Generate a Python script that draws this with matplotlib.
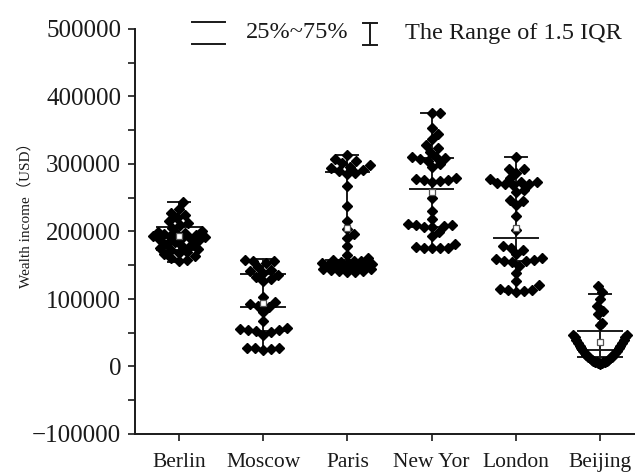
import matplotlib
matplotlib.use("Agg")
import matplotlib.pyplot as plt
from matplotlib.lines import Line2D
from matplotlib.ticker import MultipleLocator
import numpy as np

plt.rcParams['font.family'] = ['Liberation Serif', 'Noto Sans CJK SC', 'DejaVu Sans']
plt.rcParams['axes.unicode_minus'] = True

# ---------------- data ----------------
cities = ["Berlin", "Moscow", "Paris", "New Yor", "London", "Beijing"]

berlin = [243000, 233000, 228000, 224000, 220000, 216000, 212000, 209000, 205000, 201000,
          199000, 198000, 197000, 196000, 195000, 194000, 193000, 192000, 191000, 190000,
          188000, 186000, 184000, 182000, 180000, 178000, 176000, 174000, 172000, 170000,
          168000, 166000, 163000, 160000, 158000, 156000]
moscow = [158000, 157000, 156000, 153000, 148000, 143000, 141000, 139000, 136000, 133000,
          130000, 127000, 103000, 96000, 92000, 89000, 88000, 80000, 67000, 57000,
          55000, 54000, 54000, 53000, 51000, 47000, 28000, 27000, 27000, 26000, 25000]
paris = [313000, 307000, 304000, 301000, 298000, 296000, 294000, 291000, 289000, 287000,
         285000, 267000, 238000, 216000, 203000, 197000, 191000, 178000, 165000, 160000,
         158000, 157000, 156000, 155000, 154000, 153000, 152000, 151000, 150000, 149000,
         148000, 147000, 146000, 145000, 144000, 143000, 142000, 141000, 140000, 140000]
new_york = [376000, 375000, 354000, 345000, 337000, 328000, 323000, 318000, 311000, 310000,
            309000, 308000, 305000, 300000, 295000, 279000, 278000, 277000, 276000, 275000,
            274000, 249000, 230000, 218000, 211000, 210000, 209000, 208000, 207000, 206000,
            199000, 193000, 182000, 177000, 176000, 176000, 175000, 175000]
london = [311000, 293000, 292000, 287000, 279000, 278000, 274000, 273000, 272000, 271000,
          270000, 269000, 262000, 258000, 247000, 245000, 239000, 223000, 202000, 179000,
          175000, 173000, 166000, 160000, 159000, 158000, 157000, 156000, 155000, 149000,
          138000, 126000, 121000, 115000, 114000, 113000, 112000, 111000]
beijing = [119000, 111000, 100000, 89000, 82000, 78000, 65000, 62000,
           47000, 47000, 43000, 43000, 39000, 39000, 35000, 35000, 31000, 31000,
           27000, 27000, 23000, 23000, 20000, 20000, 17000, 17000, 14000, 14000,
           12000, 12000, 10000, 10000, 8500, 8500, 7000, 7000, 6000, 6000, 5000, 5000, 4000]

# summary statistics
whisker_low = [155000, 26000, 140000, 176000, 111000, 7400]
q25 = [172000, 53000, 150000, 206000, 156000, 14000]
median = [190000, 88700, 158000, 262600, 190000, 24000]
q75 = [207000, 137600, 288000, 309600, 271000, 53000]
whisker_high = [243000, 159000, 313000, 376000, 311000, 108000]
means = [193000, 94000, 205000, 258000, 205600, 36700]

yticks = [-100000, 0, 100000, 200000, 300000, 400000, 500000]
ytick_labels = ["\u2212100000", "0", "100000", "200000", "300000", "400000", "500000"]

groups = [berlin, moscow, paris, new_york, london, beijing]
layouts = ["swarm", "swarm", "swarm", "swarm", "swarm", "binned"]

# ---------------- figure ----------------
W, H = 635, 473
fig = plt.figure(figsize=(W / 100, H / 100), dpi=100)
ax_l, ax_r, ax_t, ax_b = 135, 635, 29, 434
ax = fig.add_axes([ax_l / W, 1 - ax_b / H, (ax_r - ax_l) / W, (ax_b - ax_t) / H])
xlim = (-0.523, 5.416)
ylim = (-100000, 500000)
ax.set_xlim(*xlim)
ax.set_ylim(*ylim)

px_x = (ax_r - ax_l) / (xlim[1] - xlim[0])
px_y = (ax_b - ax_t) / (ylim[1] - ylim[0])


def swarm(values, diam=7.8, maxw=26.0):
    vals = np.asarray(values, dtype=float)
    order = np.argsort(vals, kind='stable')
    placed = []
    offs = np.zeros(len(vals))
    cands = [0.0]
    k = 1
    while k <= maxw:
        cands += [float(k), -float(k)]
        k += 1
    for i in order:
        yp = vals[i] * px_y
        best, best_d = cands[0], -1.0
        for c in cands:
            dmin = min([np.hypot(px - c, py - yp) for (px, py) in placed] or [99.0])
            if dmin >= diam:
                best = c
                break
            if dmin > best_d + 0.3:
                best, best_d = c, dmin
        placed.append((best, yp))
        offs[i] = best / px_x
    return offs


def binned(values, nbins=2.5, maxw=27.0, max_step=7.0):
    """Origin-like column scatter: bin values, spread each bin center-out."""
    vals = np.asarray(values, dtype=float)
    bin_width = (vals.max() - vals.min()) / nbins
    bins = np.floor((vals - vals.min()) / bin_width).astype(int)
    counts = np.bincount(bins)
    step = min(max_step, 2 * maxw / max(counts.max() - 1, 1))
    offs = np.zeros(len(vals))
    for b in np.unique(bins):
        idx = np.where(bins == b)[0]
        idx = idx[np.argsort(vals[idx], kind='stable')]
        n = len(idx)
        for k, j in enumerate(idx):
            if n % 2 == 1:
                m = (k + 1) // 2
                sgn = 1 if k % 2 == 1 else -1
                o = sgn * m * step
            else:
                m = k // 2
                sgn = -1 if k % 2 == 0 else 1
                o = sgn * (m + 0.5) * step
            offs[j] = o / px_x
    return offs


lc = "#1a1a1a"
long_hw = 0.26
cap_hw = 0.13
for i, vals in enumerate(groups):
    ax.plot([i, i], [whisker_low[i], whisker_high[i]], color=lc, lw=1.4, zorder=2)
    for v in (q25[i], median[i], q75[i]):
        ax.plot([i - long_hw, i + long_hw], [v, v], color=lc, lw=1.4, zorder=2)
    for v in (whisker_low[i], whisker_high[i]):
        ax.plot([i - cap_hw, i + cap_hw], [v, v], color=lc, lw=1.4, zorder=2)
    ax.plot([i], [means[i]], marker='s', ms=4, mfc='white', mec='#555555', mew=0.9,
            ls='none', zorder=4)
    offs = swarm(vals) if layouts[i] == "swarm" else binned(vals)
    ax.plot(i + offs, vals, marker='D', ms=4.8, color='black', ls='none', zorder=3)

# axes styling
for s in ('top', 'right'):
    ax.spines[s].set_visible(False)
for s in ('left', 'bottom'):
    ax.spines[s].set_linewidth(1.4)
    ax.spines[s].set_color(lc)

ax.set_yticks(yticks)
ax.set_yticklabels(ytick_labels)
ax.yaxis.set_minor_locator(MultipleLocator(50000))
ax.set_xticks(range(len(cities)))
ax.set_xticklabels(cities)
ax.tick_params(axis='y', which='both', direction='out', length=5, width=1.2,
               labelsize=18, pad=5, colors=lc)
ax.tick_params(axis='x', which='major', direction='out', length=5, width=1.2,
               labelsize=15.5, pad=9, colors=lc)
ax.set_ylabel("Wealth income\uff08USD\uff09", fontsize=11, color=lc)
ax.yaxis.set_label_coords(-0.205, 0.55)


def fx(p):
    return p / W


def fy(p):
    return 1 - p / H


for yy in (22, 44):
    fig.add_artist(Line2D([fx(192), fx(225)], [fy(yy), fy(yy)], color=lc, lw=1.4,
                          transform=fig.transFigure))
fig.text(fx(246), fy(33), "25%~75%", fontsize=17.5, va='center', ha='left', color=lc)
fig.add_artist(Line2D([fx(370), fx(370)], [fy(23), fy(45)], color=lc, lw=1.4,
                      transform=fig.transFigure))
for yy in (23, 45):
    fig.add_artist(Line2D([fx(363), fx(377)], [fy(yy), fy(yy)], color=lc, lw=1.4,
                          transform=fig.transFigure))
fig.text(fx(405), fy(33), "The Range of 1.5 IQR", fontsize=17.5, va='center', ha='left',
         color=lc)

fig.savefig("out.png", dpi=100)
